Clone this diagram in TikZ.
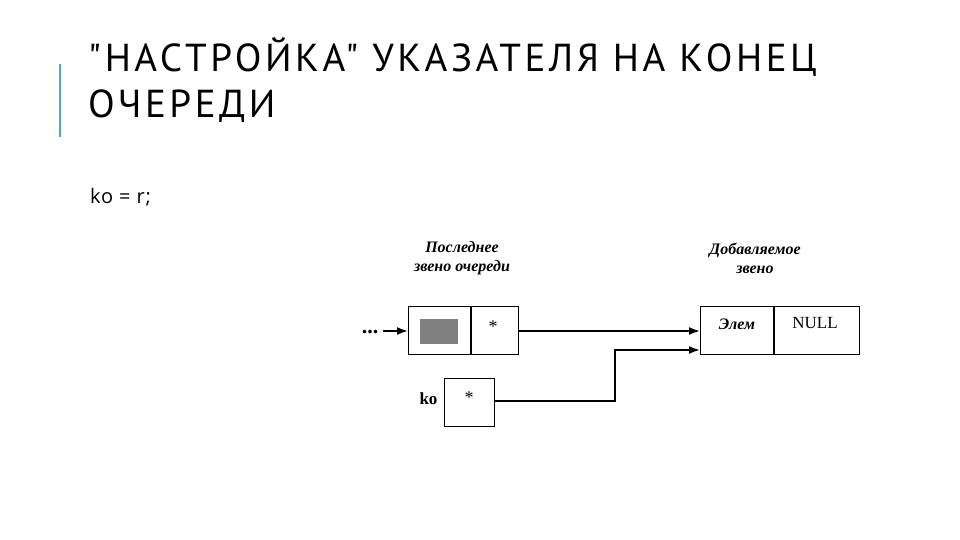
\documentclass[tikz,border=0pt]{standalone}
\usepackage{fontspec}
\setmainfont{Liberation Serif}
\newfontfamily\titlefont[LetterSpace=9]{PT Sans}
\newfontfamily\codefont[LetterSpace=4]{Open Sans}
\usepackage{xcolor}
\definecolor{cTeal}{HTML}{4BACC6}
\definecolor{cCell}{HTML}{808080}
\usetikzlibrary{positioning,arrows.meta}
\tikzset{
  cell/.style={draw=black,line width=1.1pt,minimum height=48pt,inner sep=0pt,anchor=north west},
  cell-data/.style={fill=cCell,minimum width=38pt,minimum height=25pt,inner sep=0pt},
  label-it/.style={font=\fontsize{16}{19}\selectfont\bfseries\itshape,align=center},
  label-rm/.style={font=\fontsize{18}{20}\selectfont},
  arrow/.style={-{Latex[length=11pt,width=8pt]},line width=1.8pt,draw=black},
}

\begin{document}
\begin{tikzpicture}[x=1pt,y=-1pt]
  \useasboundingbox (0,0) rectangle (960,540);
  % заголовок
  \draw[cTeal,line width=2pt] (60,64) -- (60,137);
  \node[anchor=base west,inner sep=0pt,align=left,font=\titlefont\fontsize{39}{46}\selectfont] (title) at (88,118)
    {"НАСТРОЙКА" УКАЗАТЕЛЯ НА КОНЕЦ\\ОЧЕРЕДИ};
  \node[anchor=base west,inner sep=0pt,font=\codefont\fontsize{20}{22}\selectfont] (code) at (90,203) {ko = r;};

  % последнее звено
  \node[label-it] (lastlbl) at (462,258) {Последнее\\звено очереди};
  \node[cell,minimum width=62pt] (lastdata) at (408,306) {};
  \node[cell,minimum width=47pt] (lastptr) at (lastdata.north east) {};
  \node[cell-data] (lastval) at (439,331) {};
  \node[label-rm] (laststar) at (493,327) {*};
  \node[font=\bfseries\fontsize{22}{24}\selectfont] (dots) at (370,332) {...};

  % указатель ko
  \node[cell,minimum width=50pt] (ko) at (444,378) {};
  \node[label-rm] (kostar) at (469,398) {*};
  \node[font=\bfseries\fontsize{17}{19}\selectfont,anchor=east] (kolbl) at (441,399) {ko};

  % добавляемое звено
  \node[label-it] (newlbl) at (755,258) {Добавляемое\\звено};
  \node[cell,minimum width=73pt] (newdata) at (700,306) {};
  \node[cell,minimum width=85pt] (newptr) at (newdata.north east) {};
  \node[font=\fontsize{16}{18}\selectfont\bfseries\itshape] (newval) at (737,324) {Элем};
  \node[font=\fontsize{17}{19}\selectfont] (newnull) at (815,323) {NULL};

  % связи
  \coordinate (dotsend) at (383,331);
  \draw[arrow] (dotsend) -- (lastdata.west |- dotsend);
  \draw[arrow] (lastptr.east |- dotsend) -- (newdata.west |- dotsend);
  \coordinate (koout) at (494,401);
  \draw[arrow] (koout) -| (615,350) -- (newdata.west |- 0,350);
\end{tikzpicture}
\end{document}
